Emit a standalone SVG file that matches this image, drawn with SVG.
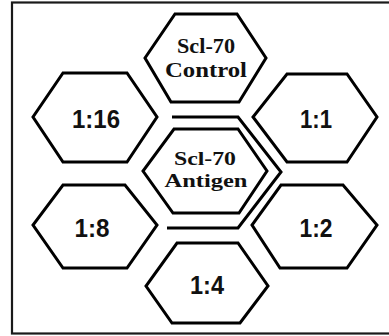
<svg xmlns="http://www.w3.org/2000/svg" width="389" height="336" viewBox="0 0 389 336">
<style>
.frame{fill:none;stroke:#1a1a1a;stroke-width:2.2}
.hex{fill:#fff;stroke:#000;stroke-width:3;stroke-linejoin:miter}
.ch{fill:none;stroke:#000;stroke-width:3}
.serif{font-family:"Liberation Serif","Times New Roman",serif;font-weight:bold;font-size:21px;fill:#111;text-anchor:middle}
.num{font-family:"Liberation Sans",Arial,sans-serif;font-weight:bold;font-size:26px;fill:#111;text-anchor:middle}
</style>
<rect width="389" height="336" fill="#fff"/>
<rect class="frame" x="12" y="2.5" width="385" height="331"/>
<g id="channel">
<polyline class="ch" points="172,117 238,117 281,172 238,228 167,228"/>
</g>
<g id="control">
<polygon class="hex" points="175,14 237,14 266,58 239,102 171,102 145,58"/>
<text class="serif" x="206" y="53" textLength="58" lengthAdjust="spacingAndGlyphs">Scl-70</text>
<text class="serif" x="206" y="77" textLength="82" lengthAdjust="spacingAndGlyphs">Control</text>
</g>
<g id="antigen">
<polygon class="hex" points="174,129 238,129 267,171 239,213 173,213 143,171"/>
<text class="serif" x="205" y="165" style="font-size:19px" textLength="62" lengthAdjust="spacingAndGlyphs">Scl-70</text>
<text class="serif" x="206" y="187" style="font-size:19px" textLength="83" lengthAdjust="spacingAndGlyphs">Antigen</text>
</g>
<g id="n1_16">
<polygon class="hex" points="63,73 127,73 157,117 127,162 63,162 33,117"/>
<text class="num" x="96" y="128" textLength="48" lengthAdjust="spacingAndGlyphs">1:16</text>
</g>
<g id="n1_1">
<polygon class="hex" points="287,74 347,74 377,117 347,162 287,162 253,117"/>
<text class="num" x="316" y="128" textLength="32" lengthAdjust="spacingAndGlyphs">1:1</text>
</g>
<g id="n1_8">
<polygon class="hex" points="63,185 125,185 157,225 127,268 63,268 33,225"/>
<text class="num" x="92" y="237" textLength="35" lengthAdjust="spacingAndGlyphs">1:8</text>
</g>
<g id="n1_2">
<polygon class="hex" points="281,185 343,185 377,225 347,268 280,268 252,225"/>
<text class="num" x="316" y="237" textLength="33" lengthAdjust="spacingAndGlyphs">1:2</text>
</g>
<g id="n1_4">
<polygon class="hex" points="177,243 238,243 268,286 240,323 172,323 146,286"/>
<text class="num" x="207" y="294" textLength="34" lengthAdjust="spacingAndGlyphs">1:4</text>
</g>
</svg>
